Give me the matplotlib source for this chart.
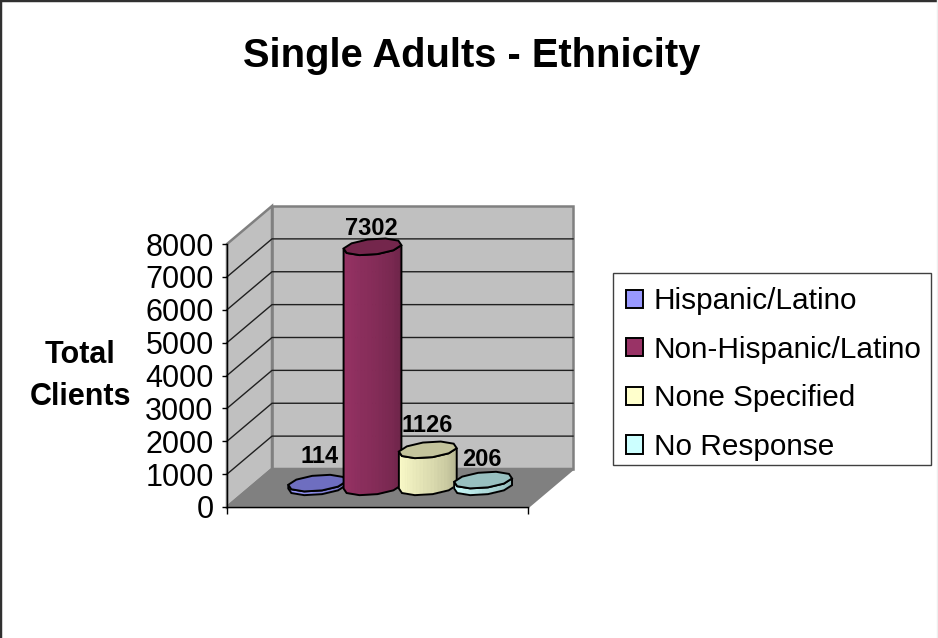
import numpy as np
import matplotlib
matplotlib.use("Agg")
import matplotlib.pyplot as plt
from matplotlib.patches import Patch, Polygon, Rectangle

plt.rcParams['font.family'] = ['Liberation Sans', 'DejaVu Sans']

categories = ['Hispanic/Latino', 'Non-Hispanic/Latino', 'None Specified', 'No Response']
values = [114, 7302, 1126, 206]
yticks = [0, 1000, 2000, 3000, 4000, 5000, 6000, 7000, 8000]

colors = ['#9999FF', '#993366', '#FFFFCC', '#CCFFFF']
top_colors = ['#6E6EC0', '#74264C', '#C4C49C', '#98C0C0']

W, H = 938, 638
YMAX = 8000
# depth of the 3d box as an offset of the front plane, in data units
DX = 45 / 301
DY = 38 / 263 * YMAX
BAR_STEP = 55.3 / 301
BAR_A = 27.5 / 301
BAR_B = 0.22
BASE_DEPTH = 0.53


def proj(x, y, d):
    return x + d * DX, y + d * DY


def ring(xc, y, n=10):
    t = np.linspace(0, 2 * np.pi, n, endpoint=False) + 0.2
    xs = xc + BAR_A * np.cos(t) + (BASE_DEPTH + BAR_B * np.sin(t)) * DX
    ys = y + (BASE_DEPTH + BAR_B * np.sin(t)) * DY
    return xs, ys


def shade(color, f):
    c = np.array(matplotlib.colors.to_rgb(color))
    return tuple(c * f)


def draw_bar(ax, xc, val, color, top, z):
    xb, yb = ring(xc, 0)
    xt, yt = ring(xc, val)
    i0, i1 = int(np.argmin(xb)), int(np.argmax(xb))
    # front half of the ring, left to right through the low side
    idx = [i0]
    while idx[-1] != i1:
        idx.append((idx[-1] + 1) % len(xb))
    idx = np.array(idx)
    # small steps for the shading, the outline stays lumpy
    sx = np.linspace(0, len(idx) - 1, 25)
    fx_b = np.interp(sx, np.arange(len(idx)), xb[idx])
    fy_b = np.interp(sx, np.arange(len(idx)), yb[idx])
    fy_t = fy_b + val
    for k in range(len(sx) - 1):
        f = 1.0 - 0.28 * (k / (len(sx) - 2)) ** 1.3
        ax.add_patch(Polygon([(fx_b[k], fy_b[k]), (fx_b[k + 1], fy_b[k + 1]),
                              (fx_b[k + 1], fy_t[k + 1]), (fx_b[k], fy_t[k])],
                             closed=True, fc=shade(color, f), ec=shade(color, f),
                             lw=0.8, clip_on=False, zorder=z))
    outline = list(zip(xb[idx], yb[idx])) + list(zip(xt[idx][::-1], yt[idx][::-1]))
    ax.add_patch(Polygon(outline, closed=True, fc='none', ec='black', lw=1.4,
                         clip_on=False, zorder=z + 0.1))
    ax.add_patch(Polygon(list(zip(xt, yt)), closed=True, fc=top, ec='black', lw=1.4,
                         clip_on=False, zorder=z + 0.2))


fig = plt.figure(figsize=(W / 100, H / 100), dpi=100)
fig.patch.set_facecolor('white')
# only the top and left edges of the frame are dark, the right one is faint
fig.add_artist(plt.Line2D([0, 0, 1], [0, 1, 1], transform=fig.transFigure, color='#303030', lw=3.2))
fig.add_artist(plt.Line2D([937 / W, 937 / W], [0, 1], transform=fig.transFigure, color='#EEEEEE', lw=1))

ax = fig.add_axes([227 / W, 1 - 507 / H, 301 / W, 263 / H])
ax.set_xlim(0, 1)
ax.set_ylim(0, YMAX)
ax.patch.set_alpha(0)
for s in ['top', 'right']:
    ax.spines[s].set_visible(False)
ax.spines['left'].set_linewidth(1)
ax.spines['bottom'].set_linewidth(1)
ax.set_xticks([0, 1])
ax.set_xticklabels([])
ax.set_yticks(yticks)
ax.tick_params(axis='y', labelsize=22, length=3.6, width=1, pad=6)
ax.tick_params(axis='x', length=5, width=1)

# walls and floor of the 3d box
back = [proj(0, 0, 1), proj(1, 0, 1), proj(1, YMAX, 1), proj(0, YMAX, 1)]
side = [proj(0, 0, 0), proj(0, 0, 1), proj(0, YMAX, 1), proj(0, YMAX, 0)]
floor = [proj(0, 0, 0), proj(1, 0, 0), proj(1, 0, 1), proj(0, 0, 1)]
for pts, fc in [(back, '#C0C0C0'), (side, '#C0C0C0'), (floor, '#808080')]:
    ax.add_patch(Polygon(pts, closed=True, fc=fc, ec='#808080', lw=1.8, clip_on=False, zorder=1))

for v in yticks[1:-1]:
    x0, y0 = proj(0, v, 0)
    x1, y1 = proj(0, v, 1)
    x2, y2 = proj(1, v, 1)
    ax.plot([x0, x1, x2], [y0, y1, y2], color='#202020', lw=1, clip_on=False, zorder=1.5)

label_off = [(2, 27), (-1, 18), (-1, 24), (-1, 21)]
for i, (val, c, tc) in enumerate(zip(values, colors, top_colors)):
    xc = 0.5 + (i - 1.5) * BAR_STEP - 0.004
    draw_bar(ax, xc, val, c, tc, 3 + i)
    xl, yl = proj(xc, val, BASE_DEPTH)
    ax.annotate(str(val), (xl, yl), xytext=(label_off[i][0] * 0.72, label_off[i][1] * 0.72),
                textcoords='offset points', ha='center', va='center',
                fontsize=17, fontweight='bold', zorder=10, annotation_clip=False)

fig.text(472 / W, 1 - 56 / H, 'Single Adults - Ethnicity', ha='center', va='center',
         fontsize=28.7, fontweight='bold')
fig.text(80 / W, 1 - 376 / H, 'Total\nClients', ha='center', va='center',
         fontsize=22, fontweight='bold', linespacing=1.55)

# legend box drawn apart, its rows sit a bit low in the frame
fig.add_artist(Rectangle((613 / W, 1 - 465 / H), 318 / W, 192 / H, transform=fig.transFigure,
                         fc='white', ec='#404040', lw=1))
handles = [Patch(fc=c, ec='black', lw=1.4) for c in colors]
leg = fig.legend(handles, categories, loc='center left',
                 bbox_to_anchor=(615 / W, 1 - 374 / H), fontsize=21.4,
                 frameon=False,
                 handlelength=0.58, handleheight=0.58, handletextpad=0.37,
                 labelspacing=0.69, borderpad=0.36, borderaxespad=0)

fig.savefig('out.png', dpi=100)
